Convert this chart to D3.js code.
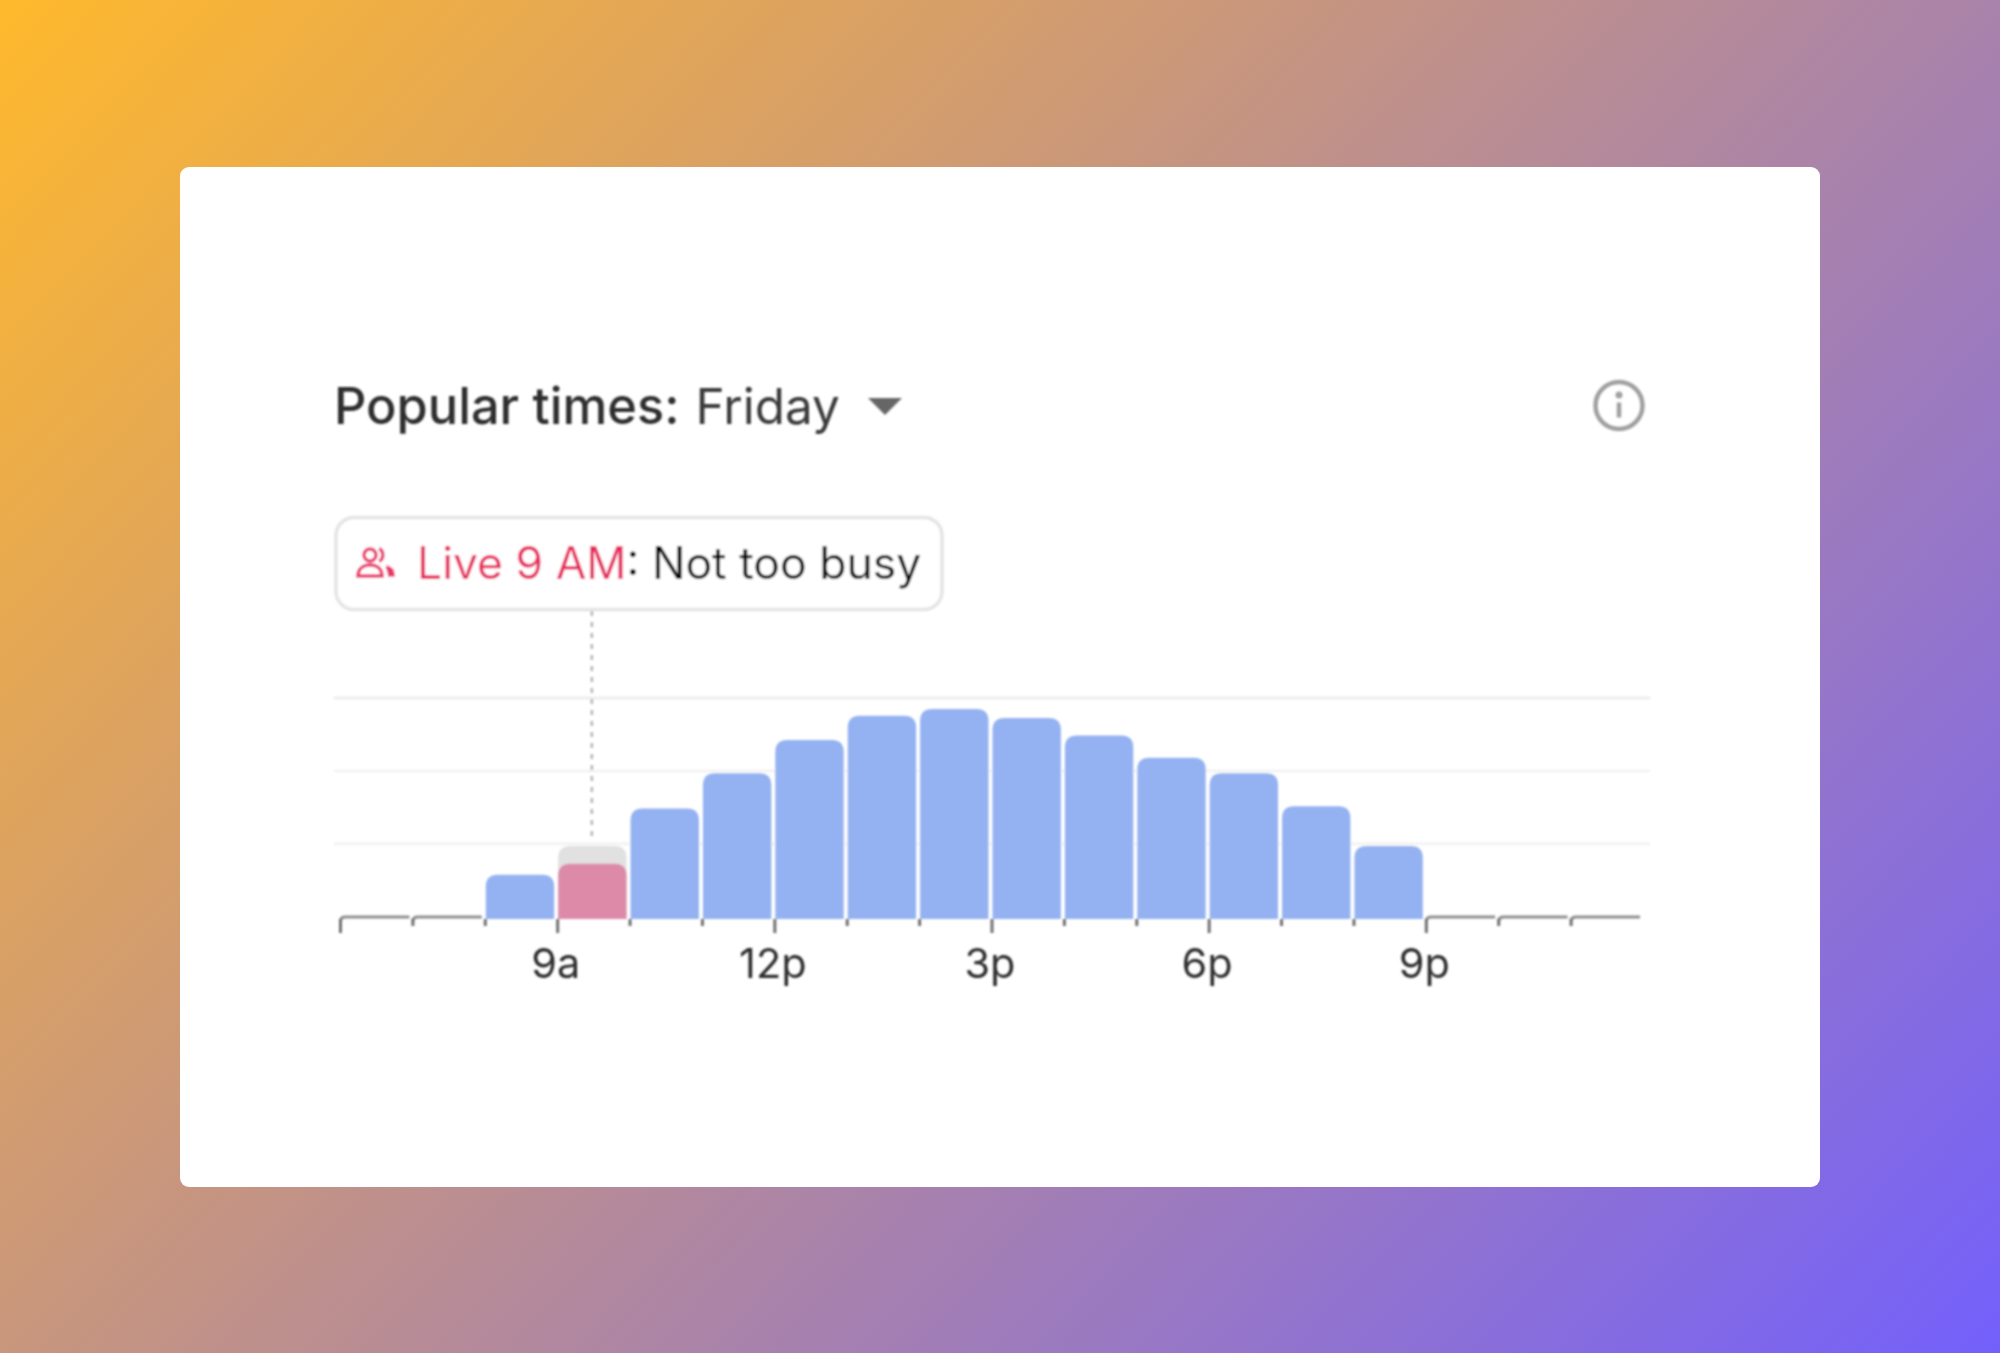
<!DOCTYPE html>
<html>
<head>
<meta charset="utf-8">
<script src="https://cdn.jsdelivr.net/npm/d3@7"></script>
<style>
  html, body { margin: 0; padding: 0; background: #fff; }
  svg { display: block; }
  text { font-family: Inter, "Noto Sans", sans-serif; }
</style>
</head>
<body>
<svg id="chart" width="2000" height="1353"></svg>
<script>
// DATA
const hours = [6, 7, 8, 9, 10, 11, 12, 13, 14, 15, 16, 17, 18, 19, 20, 21, 22, 23];
const usual_busy = [0, 0, 20, 33, 50, 66, 81, 92, 95, 91, 83, 73, 66, 51, 33, 0, 0, 0];
const live_hour = 9;
const live_busy = 25;
const grid_values = [34, 67, 100];
const labeled_hours = [9, 12, 15, 18, 21];
const tick_labels = ["9a", "12p", "3p", "6p", "9p"];
const major_ticks = [6, 9, 12, 15, 18, 21];

const title_bold = "Popular times:";
const title_day = "Friday";
const live_label = "Live 9 AM";
const live_status = ": Not too busy";

const svg = d3.select("#chart");

// Background
const defs = svg.append("defs");
const bg = defs.append("linearGradient")
    .attr("id", "bg")
    .attr("gradientUnits", "userSpaceOnUse")
    .attr("x1", 0).attr("y1", 0)
    .attr("x2", 1732).attr("y2", 1636);
bg.append("stop").attr("offset", 0).attr("stop-color", "#ffb92c");
bg.append("stop").attr("offset", 1).attr("stop-color", "#7360fb");

// the source is a soft upscaled screenshot
defs.append("filter").attr("id", "soft")
    .append("feGaussianBlur").attr("stdDeviation", 0.9);

svg.append("rect").attr("width", 2000).attr("height", 1353).attr("fill", "url(#bg)");
svg.append("rect")
    .attr("x", 180).attr("y", 167)
    .attr("width", 1640).attr("height", 1020)
    .attr("rx", 9)
    .attr("fill", "#fff");

const card = svg.append("g").attr("filter", "url(#soft)");

// SCALES
const x = d3.scaleLinear().domain([6, 24]).range([340, 1643]);
const y = d3.scaleLinear().domain([0, 100]).range([919, 698]);

// top rounded bar
function bar_path(x0, x1, y0, y1, r) {
    const p = d3.path();
    p.moveTo(x0, y0);
    p.lineTo(x0, y1 + r);
    p.quadraticCurveTo(x0, y1, x0 + r, y1);
    p.lineTo(x1 - r, y1);
    p.quadraticCurveTo(x1, y1, x1, y1 + r);
    p.lineTo(x1, y0);
    p.closePath();
    return p.toString();
}

// Grid
card.selectAll(".grid")
    .data(grid_values)
    .join("line")
    .attr("class", "grid")
    .attr("x1", 334).attr("x2", 1650)
    .attr("y1", d => y(d)).attr("y2", d => y(d))
    .attr("stroke", d => d === 100 ? "#ededed" : "#f3f3f3")
    .attr("stroke-width", 3);

// Dashed pointer from the tooltip down to the live bar
card.append("line")
    .attr("x1", x(live_hour + 0.5) - 1.5).attr("x2", x(live_hour + 0.5) - 1.5)
    .attr("y1", 611).attr("y2", y(37))
    .attr("stroke", "#b5b5b5")
    .attr("stroke-width", 2.5)
    .attr("stroke-dasharray", "5 6");

// Bars
const slots = hours.map((h, i) => ({hour: h, value: usual_busy[i]}));
card.selectAll(".bar")
    .data(slots.filter(d => d.value > 0))
    .join("path")
    .attr("class", "bar")
    .attr("d", d => bar_path(x(d.hour) + 1, x(d.hour + 1) - 3, y(0), y(d.value), 12))
    .attr("fill", d => d.hour === live_hour ? "#e1e1e1" : "#94b2f1");

card.append("path")
    .attr("d", bar_path(x(live_hour) + 1, x(live_hour + 1) - 3, y(0), y(live_busy), 12))
    .attr("fill", "#dd8aa8");

// Flat slots with no traffic
card.selectAll(".flat")
    .data(slots.filter(d => d.value === 0))
    .join("path")
    .attr("class", "flat")
    .attr("d", d => {
        const p = d3.path();
        const x0 = x(d.hour) + 0.5;
        p.moveTo(x0, y(0) + 2);
        p.quadraticCurveTo(x0, y(0) - 2, x0 + 5, y(0) - 2);
        p.lineTo(x(d.hour + 1) - 3, y(0) - 2);
        return p.toString();
    })
    .attr("fill", "none")
    .attr("stroke", "#8f8f8f")
    .attr("stroke-width", 3);

// Axis
const axis = d3.axisBottom(x)
    .tickValues(hours)
    .tickSizeOuter(0)
    .tickFormat(h => {
        const i = labeled_hours.indexOf(h);
        return i < 0 ? "" : tick_labels[i];
    });

const axis_g = card.append("g")
    .attr("transform", `translate(0,${y(0)})`)
    .call(axis);
axis_g.select(".domain").remove();
axis_g.selectAll(".tick line")
    .attr("stroke", "#6f6f6f")
    .attr("stroke-width", 3)
    .attr("y2", d => major_ticks.includes(d) ? 14 : 7);
axis_g.selectAll(".tick text")
    .attr("y", 59)
    .attr("dy", 0)
    .attr("dx", -2)
    .attr("font-family", "Inter, 'Noto Sans', sans-serif")
    .attr("font-size", 41.5)
    .attr("fill", "#2e2e2e");

// Title
const title = card.append("text")
    .attr("x", 334).attr("y", 424)
    .attr("fill", "#2e2e2e");
title.append("tspan")
    .attr("font-size", 50.5)
    .attr("font-weight", 500)
    .text(title_bold);
title.append("tspan")
    .attr("dx", 16)
    .attr("font-size", 49.5)
    .attr("fill", "#3a3a3a")
    .text(title_day);

// Dropdown arrow
card.append("path")
    .attr("d", d3.line()([[868, 398], [902, 398], [885, 415]]) + "Z")
    .attr("fill", "#666");

// Info icon
const info = card.append("g").attr("transform", "translate(1619,405.5)");
info.append("circle").attr("r", 23.5)
    .attr("fill", "none").attr("stroke", "#a0a0a0").attr("stroke-width", 4.5);
info.append("circle").attr("cy", -10.5).attr("r", 3.5).attr("fill", "#a0a0a0");
info.append("line").attr("y1", -3).attr("y2", 12)
    .attr("stroke", "#a0a0a0").attr("stroke-width", 4.5);

// Tooltip
card.append("rect")
    .attr("x", 336).attr("y", 517.5)
    .attr("width", 606).attr("height", 92)
    .attr("rx", 18)
    .attr("fill", "#fff")
    .attr("stroke", "#e4e4e4")
    .attr("stroke-width", 3.5);

const people = card.append("g")
    .attr("transform", "translate(356,548)")
    .attr("fill", "none")
    .attr("stroke", "#e8396c")
    .attr("stroke-width", 3.5);
people.append("circle").attr("cx", 14).attr("cy", 7).attr("r", 6);
people.append("path").attr("d", "M2,28 C2,19 9,17 14,17 C19,17 26,19 26,28 Z");
people.append("path").attr("d", "M23,1 C28,2 28,12 23,13");
people.append("path").attr("d", "M30,19 C35,20 37,23 37,27 L32,27").attr("fill", "#e8396c");

const status = card.append("text")
    .attr("x", 417).attr("y", 579)
    .attr("font-size", 44.5)
    .attr("fill", "#000");
status.append("tspan").attr("fill", "#e62a5e").text(live_label);
status.append("tspan").text(live_status);
</script>
</body>
</html>
